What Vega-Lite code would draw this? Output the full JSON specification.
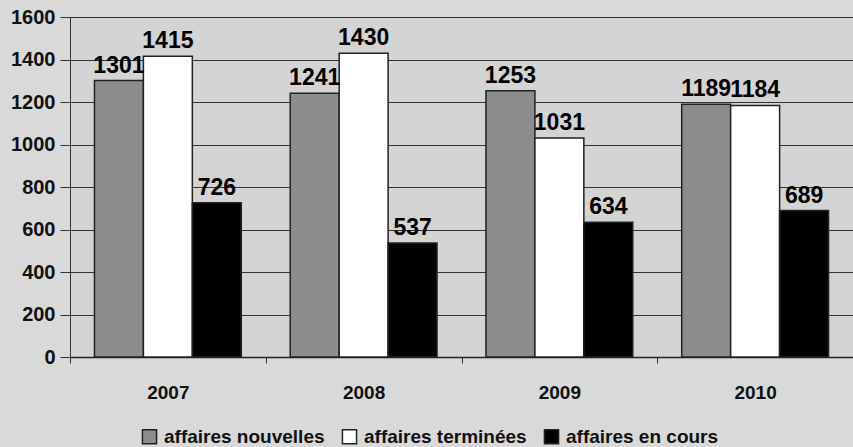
{
  "$schema": "https://vega.github.io/schema/vega-lite/v6.json",
  "width": 783,
  "height": 340,
  "autosize": {"type": "none"},
  "padding": {"left": 70, "top": 17, "right": 0, "bottom": 90},
  "background": "#d9d9d9",
  "config": {
    "font": "Liberation Sans",
    "view": {"stroke": "#333333", "strokeWidth": 1, "fill": "#d4d4d4"}
  },
  "data": {
    "values": [
      {"annee": "2007", "serie": "affaires nouvelles", "valeur": 1301},
      {"annee": "2007", "serie": "affaires terminées", "valeur": 1415},
      {"annee": "2007", "serie": "affaires en cours", "valeur": 726},
      {"annee": "2008", "serie": "affaires nouvelles", "valeur": 1241},
      {"annee": "2008", "serie": "affaires terminées", "valeur": 1430},
      {"annee": "2008", "serie": "affaires en cours", "valeur": 537},
      {"annee": "2009", "serie": "affaires nouvelles", "valeur": 1253},
      {"annee": "2009", "serie": "affaires terminées", "valeur": 1031},
      {"annee": "2009", "serie": "affaires en cours", "valeur": 634},
      {"annee": "2010", "serie": "affaires nouvelles", "valeur": 1189},
      {"annee": "2010", "serie": "affaires terminées", "valeur": 1184},
      {"annee": "2010", "serie": "affaires en cours", "valeur": 689}
    ]
  },
  "encoding": {
    "x": {
      "field": "annee", "type": "nominal",
      "scale": {"paddingInner": 0, "paddingOuter": 0},
      "axis": {
        "title": null, "labelAngle": 0, "labelFontSize": 19, "labelFontWeight": "bold", "labelColor": "#111",
        "labelPadding": 20, "tickBand": "extent", "tickSize": 6, "tickColor": "#333",
        "domainColor": "#222", "domainWidth": 1.5
      }
    },
    "xOffset": {
      "field": "serie", "type": "nominal",
      "sort": ["affaires nouvelles", "affaires terminées", "affaires en cours"],
      "scale": {"paddingInner": 0, "paddingOuter": 0.5}
    },
    "y": {
      "field": "valeur", "type": "quantitative",
      "scale": {"domain": [0, 1600], "nice": false},
      "axis": {
        "title": null, "values": [0, 200, 400, 600, 800, 1000, 1200, 1400, 1600],
        "format": "d",
        "labelFontSize": 20, "labelFontWeight": "bold", "labelColor": "#111", "labelPadding": 5,
        "tickSize": 10, "tickColor": "#333", "gridColor": "#333333", "gridWidth": 1,
        "gridOpacity": 1, "domainColor": "#333"
      }
    }
  },
  "layer": [
    {
      "mark": {"type": "bar", "stroke": "#222222", "strokeWidth": 1.5},
      "encoding": {
        "color": {
          "field": "serie", "type": "nominal",
          "sort": ["affaires nouvelles", "affaires terminées", "affaires en cours"],
          "scale": {
            "domain": ["affaires nouvelles", "affaires terminées", "affaires en cours"],
            "range": ["#8c8c8c", "#ffffff", "#000000"]
          },
          "legend": {
            "title": null, "orient": "none", "direction": "horizontal",
            "legendX": 70, "legendY": 410,
            "symbolType": "square", "symbolSize": 200, "symbolStrokeColor": "#222",
            "symbolStrokeWidth": 1.5, "labelFontSize": 19, "labelFontWeight": "bold", "labelColor": "#111",
            "columnPadding": 14, "symbolOpacity": 1, "labelOffset": 5, "labelLimit": 300
          }
        }
      }
    },
    {
      "mark": {"type": "text", "baseline": "bottom", "dy": -3, "fontSize": 23, "fontWeight": "bold", "color": "#000"},
      "encoding": {
        "text": {"field": "valeur", "type": "quantitative"}
      }
    }
  ]
}
